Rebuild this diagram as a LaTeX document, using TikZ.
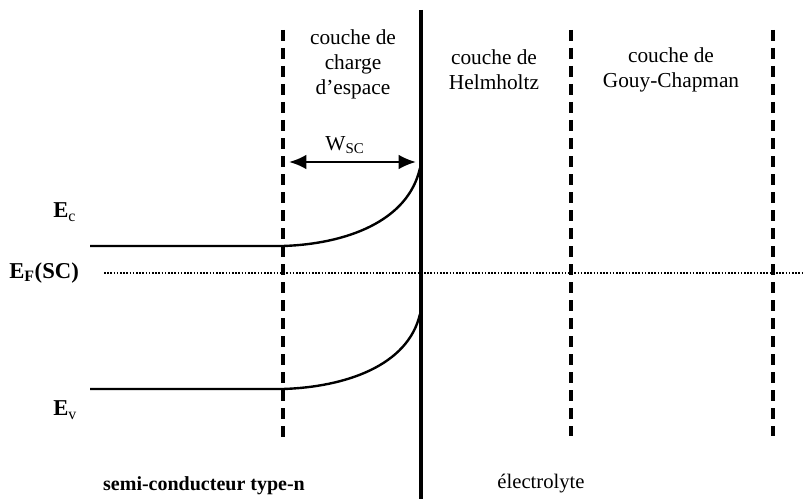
\documentclass[tikz,border=0pt]{standalone}
\usepackage{fontspec}
\setmainfont{Liberation Serif}
\usetikzlibrary{arrows.meta}
\begin{document}
\begin{tikzpicture}[x=0.75pt,y=-0.75pt,
  boundary/.style={line width=2.4pt, dash pattern=on 8.5pt off 5pt},
  interface/.style={line width=2.4pt},
  band/.style={line width=1.8pt},
  fermi/.style={line width=1.1pt, dash pattern=on 1.2pt off 1.2pt},
  lbl/.style={font=\fontsize{16}{19}\selectfont, align=center, inner sep=0pt},
  elbl/.style={font=\fontsize{17}{19}\selectfont\bfseries, inner sep=0pt},
  widtharrow/.style={line width=1.8pt, {Latex[length=13pt,width=11pt]}-{Latex[length=13pt,width=11pt]}}]
\useasboundingbox (0,0) rectangle (805,499);
% boundaries
\coordinate (s1t) at (283,30); \coordinate (s1b) at (283,440);
\coordinate (itop) at (421,10); \coordinate (ibot) at (421,499);
\coordinate (h1t) at (571,30); \coordinate (h1b) at (571,436);
\coordinate (g1t) at (773,30); \coordinate (g1b) at (773,436);
\draw[boundary] (s1t) -- (s1b);
\draw[interface] (itop) -- (ibot);
\draw[boundary] (h1t) -- (h1b);
\draw[boundary] (g1t) -- (g1b);
% Fermi level
\coordinate (ef1) at (104,273); \coordinate (ef2) at (805,273);
\draw[fermi] (ef1) -- (ef2);
% conduction band
\coordinate (ec0) at (90,246); \coordinate (ec1) at (283,246); \coordinate (ec2) at (420,168);
\draw[band] (ec0) -- (ec1) .. controls (345,244) and (408,222) .. (ec2);
% valence band
\coordinate (ev0) at (90,389); \coordinate (ev1) at (283,389); \coordinate (ev2) at (420,314);
\draw[band] (ev0) -- (ev1) .. controls (345,387) and (408,366) .. (ev2);
% width arrow
\coordinate (wa) at (289,162); \coordinate (wb) at (416,162);
\draw[widtharrow] (wa) -- (wb);
\node[lbl] (wsc) at (345,145) {W\textsubscript{SC}};
% region labels
\node[lbl, font=\fontsize{16}{18.75}\selectfont] (csc) at (353,64) {couche de\\charge\\d’espace};
\node[lbl, font=\fontsize{16}{18.75}\selectfont] (chz) at (494,70) {couche de\\Helmholtz};
\node[lbl, font=\fontsize{16}{18.75}\selectfont] (cgc) at (671,70) {couche de\\Gouy-Chapman};
% energy labels
\node[elbl, anchor=west] (ec) at (53,212) {E\textsubscript{\normalfont c}};
\node[elbl, anchor=west] (ef) at (9,273) {E\textsubscript{F}(SC)};
\node[elbl, anchor=west] (ev) at (53,410) {E\textsubscript{\normalfont v}};
% bottom labels
\node[lbl, font=\fontsize{15}{18}\selectfont\bfseries] (sc) at (204,486) {semi-conducteur type-n};
\node[lbl, font=\fontsize{15.5}{18}\selectfont] (el) at (541,484) {électrolyte};
\end{tikzpicture}
\end{document}
